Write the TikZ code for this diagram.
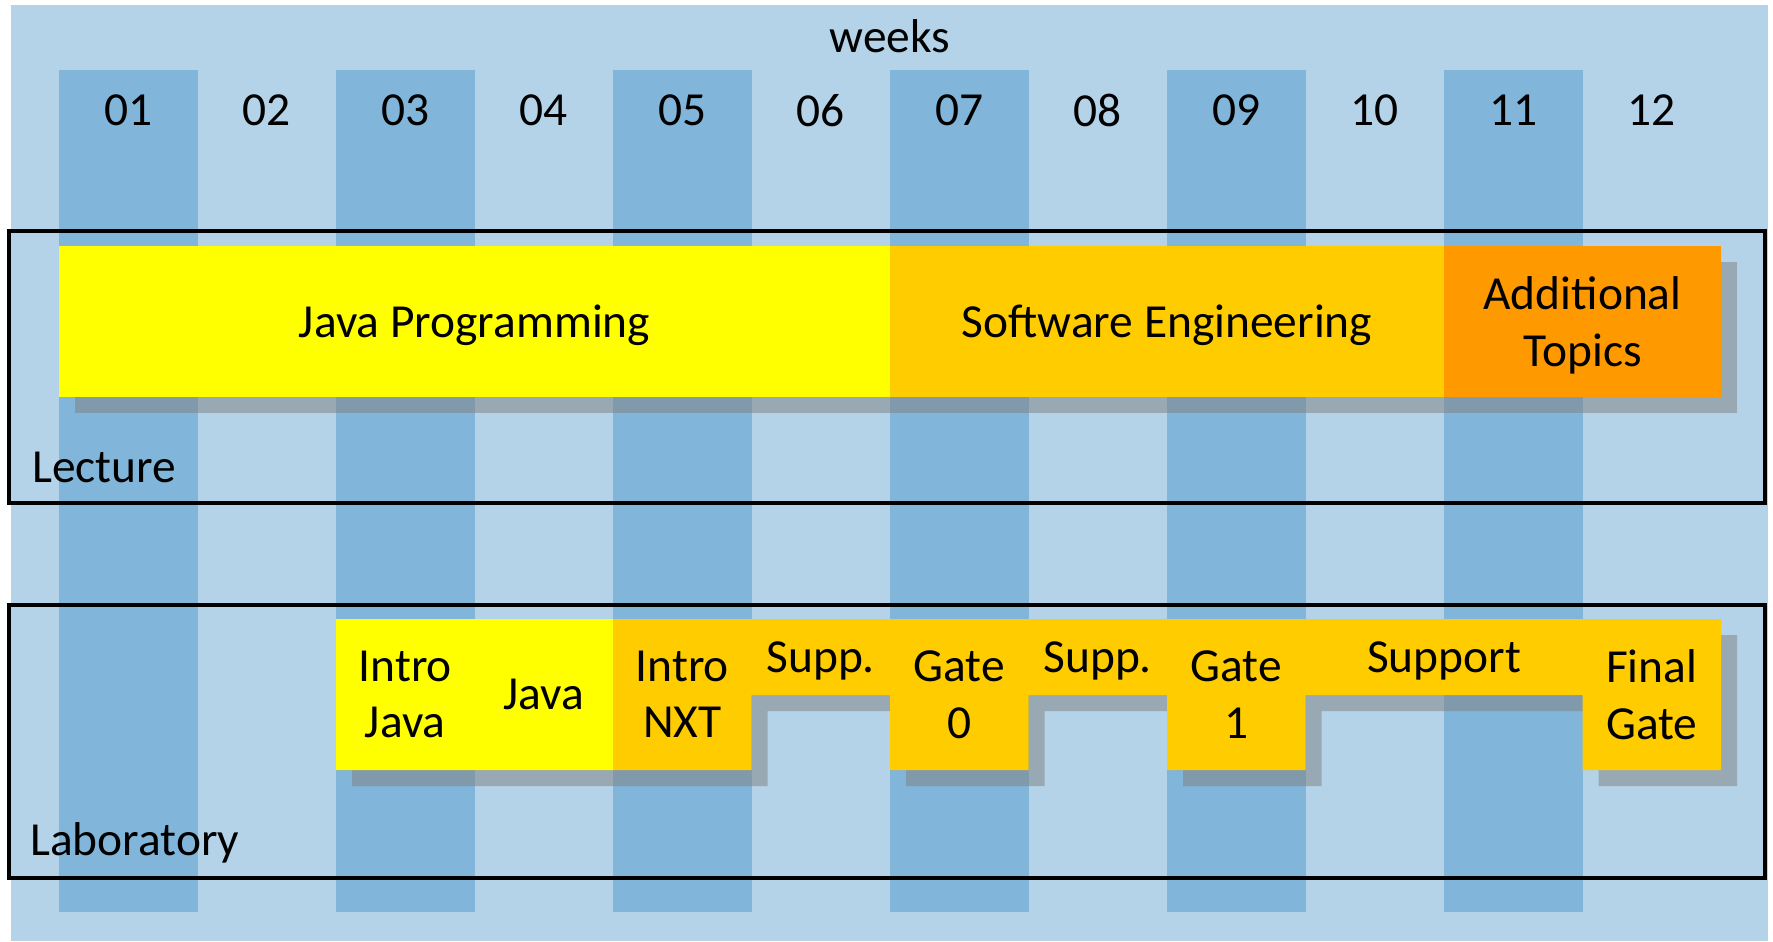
\documentclass[tikz,border=0pt]{standalone}
\usepackage{fontspec}
\setmainfont{Carlito}
\definecolor{weekbg}{HTML}{B4D3E8}
\definecolor{weekcol}{HTML}{81B5DA}
\definecolor{javayellow}{HTML}{FFFF00}
\definecolor{seorange}{HTML}{FFCC00}
\definecolor{addorange}{HTML}{FF9900}

\begin{document}
\begin{tikzpicture}[x=0.02cm,y=-0.02cm,
    txt/.style={inner sep=0pt,text depth=0pt,align=center,font=\fontsize{27}{32}\selectfont},
    shadowfill/.style={fill=gray,fill opacity=0.5},
    phasebox/.style={draw=black,line width=0.08cm}]
    \useasboundingbox (0,0) rectangle (1773,941);
    \fill[weekbg] (11,5) rectangle (1768,941);
    % odd weeks darker
    \foreach \k in {1,3,5,7,9,11} {
      \fill[weekcol] ({59+(\k-1)*138.5},70) rectangle ({59+\k*138.5},912);
    }
    \node[txt] (weeks) at (890,36) {weeks};
    \foreach \k/\w in {1/01,2/02,3/03,4/04,5/05,6/06,7/07,8/08,9/09,10/10,11/11,12/12} {
      \node[txt] (wk\k) at ({59+(\k-0.5)*138.5},110) {\w};
    }
    % lecture
    \fill[shadowfill] (75,262) rectangle (1737,413);
    \fill[javayellow] (59,246) rectangle (890,397);
    \fill[seorange] (890,246) rectangle (1444,397);
    \fill[addorange] (1444,246) rectangle (1721,397);
    \node[txt] (javaprog) at (474.5,321.5) {Java Programming};
    \node[txt] (softeng) at (1167,321.5) {Software Engineering};
    \node[txt] (addtopics) at (1582.5,321.5) {Additional\\Topics};
    \draw[phasebox] (9,231) rectangle (1765,503);
    \node[txt,anchor=base west] (lecture) at (32,482) {Lecture};
    % laboratory
    \fill[shadowfill,shift={(16,16)}] (336,619) -- (1721,619) -- (1721,770) -- (1582.5,770)
      -- (1582.5,695) -- (1305.5,695) -- (1305.5,770) -- (1167,770) -- (1167,695)
      -- (1028.5,695) -- (1028.5,770) -- (890,770) -- (890,695) -- (751.5,695)
      -- (751.5,770) -- (336,770) -- cycle;
    \fill[seorange] (336,619) -- (1721,619) -- (1721,770) -- (1582.5,770)
      -- (1582.5,695) -- (1305.5,695) -- (1305.5,770) -- (1167,770) -- (1167,695)
      -- (1028.5,695) -- (1028.5,770) -- (890,770) -- (890,695) -- (751.5,695)
      -- (751.5,770) -- (336,770) -- cycle;
    \fill[javayellow] (336,619) rectangle (613,770);
    \node[txt] (introjava) at (405.25,694.5) {Intro\\Java};
    \node[txt] (java) at (543.75,694.5) {Java};
    \node[txt] (intronxt) at (682.25,694.5) {Intro\\NXT};
    \node[txt] (suppa) at (820.75,657) {Supp.};
    \node[txt] (gatezero) at (959.25,694.5) {Gate\\0};
    \node[txt] (suppb) at (1097.75,657) {Supp.};
    \node[txt] (gateone) at (1236.25,694.5) {Gate\\1};
    \node[txt] (support) at (1444,657) {Support};
    \node[txt] (finalgate) at (1651.75,694.5) {Final\\Gate};
    \draw[phasebox] (9,605) rectangle (1765,878);
    \node[txt,anchor=base west] (laboratory) at (30,855) {Laboratory};
\end{tikzpicture}
\end{document}
